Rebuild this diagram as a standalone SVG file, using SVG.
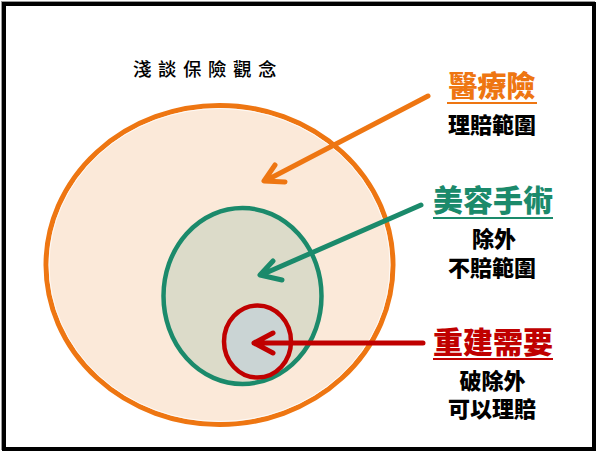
<svg xmlns="http://www.w3.org/2000/svg" width="600" height="453" viewBox="0 0 600 453">
<style>
.h{font-family:"Noto Sans CJK TC","Noto Sans CJK SC",sans-serif;font-weight:900;text-anchor:middle}
.s{font-family:"Noto Sans CJK TC","Noto Sans CJK SC",sans-serif;font-weight:900;text-anchor:middle;fill:#000;font-size:22px}
.arr{fill:none;stroke-width:5;stroke-linecap:round;stroke-linejoin:round}
</style>
<rect x="0" y="0" width="600" height="453" fill="#fff"/>
<rect x="1.5" y="1.5" width="593" height="448" fill="none" stroke="#999" stroke-width="1"/>
<rect x="4" y="4" width="590" height="445" fill="#fff" stroke="#000" stroke-width="4"/>
<g id="title">
<text x="133" y="76" font-family="Noto Sans CJK TC,sans-serif" font-weight="500" font-size="18.5" letter-spacing="6.5" fill="#000">淺談保險觀念</text>
</g>
<g id="medical">
<ellipse cx="219.5" cy="265" rx="173.5" ry="159.5" fill="#FBE9D9" stroke="#EE7612" stroke-width="5"/>
<ellipse cx="219.5" cy="265" rx="170.5" ry="156.5" fill="none" stroke="#fff" stroke-width="1" opacity="0.8"/>
</g>
<g id="cosmetic">
<ellipse cx="242.5" cy="296" rx="79" ry="88" fill="#DCDBC9" stroke="#1B8A6B" stroke-width="4.5"/>
</g>
<g id="reconstruct">
<ellipse cx="257.5" cy="341.5" rx="33.5" ry="36" fill="#CAD4D4" stroke="#C00000" stroke-width="4.5"/>
</g>
<g id="connectors">
<path class="arr" stroke="#EE7612" d="M428,96 L265,181 M275,165 L264,181 L285,182"/>
<path class="arr" stroke="#1B8A6B" d="M421,205 L261,275 M273,261 L260,275 L282,280"/>
<path class="arr" stroke="#C00000" d="M423,343 L254,343 M273,333 L254,343 L273,353"/>
</g>
<g id="label-medical">
<text class="h" x="492" y="97" font-size="29" fill="#EE7612">醫療險</text>
<line x1="447" y1="103" x2="537" y2="103" stroke="#EE7612" stroke-width="2"/>
<text class="s" x="492" y="132.5">理賠範圍</text>
</g>
<g id="label-cosmetic">
<text class="h" x="493" y="211" font-size="30" fill="#1B8A6B">美容手術</text>
<line x1="433" y1="218" x2="553" y2="218" stroke="#1B8A6B" stroke-width="2"/>
<text class="s" x="494" y="246.5">除外</text>
<text class="s" x="492" y="275.5">不賠範圍</text>
</g>
<g id="label-reconstruct">
<text class="h" x="493" y="353" font-size="30" fill="#C00000">重建需要</text>
<line x1="433" y1="359" x2="553" y2="359" stroke="#C00000" stroke-width="2"/>
<text class="s" x="492.5" y="388.5">破除外</text>
<text class="s" x="492" y="416.5">可以理賠</text>
</g>
</svg>
